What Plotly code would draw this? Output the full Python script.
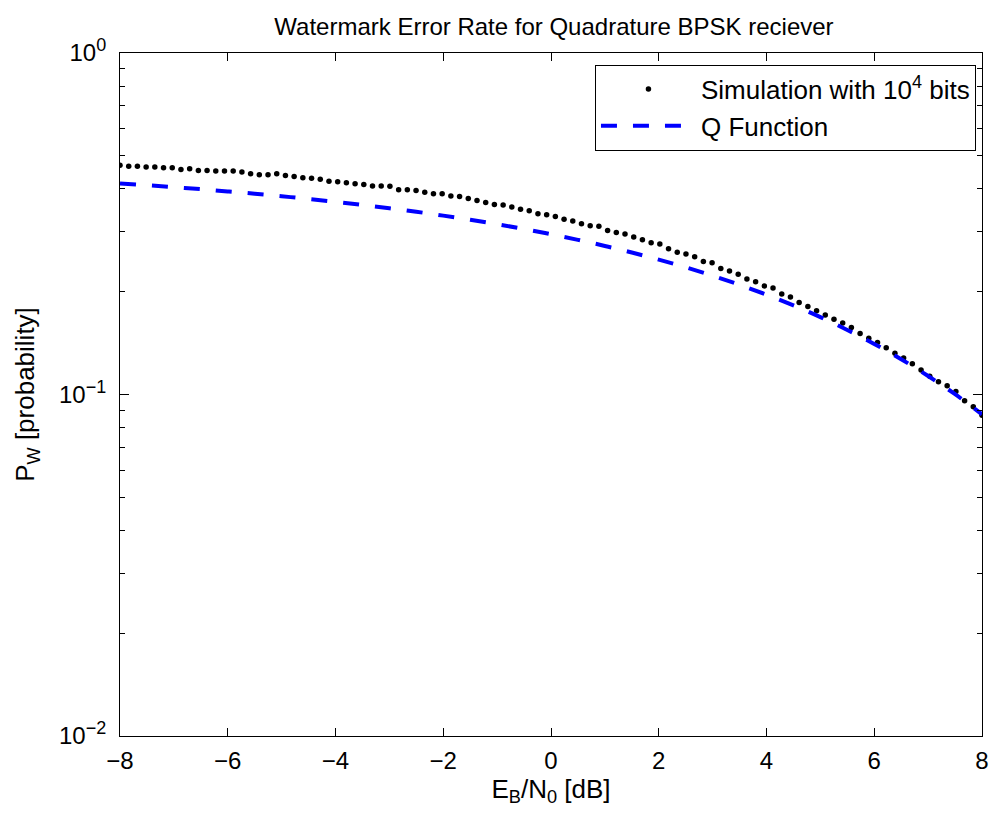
import numpy as np
import plotly.graph_objects as go

# Simulated watermark error rate, 100 SNR points between -8 and 8 dB
sim_ebn0_db = np.linspace(-8, 8, 100)
sim_pw = [
    0.469, 0.466, 0.466, 0.464, 0.464, 0.461, 0.461, 0.456, 0.458, 0.453,
    0.453, 0.451, 0.451, 0.451, 0.448, 0.443, 0.440, 0.440, 0.443, 0.438,
    0.435, 0.431, 0.430, 0.427, 0.421, 0.420, 0.417, 0.414, 0.412, 0.408,
    0.408, 0.407, 0.398, 0.398, 0.396, 0.391, 0.387, 0.387, 0.381, 0.380,
    0.375, 0.370, 0.365, 0.360, 0.359, 0.354, 0.349, 0.345, 0.338, 0.336,
    0.332, 0.326, 0.322, 0.316, 0.312, 0.311, 0.302, 0.298, 0.295, 0.289,
    0.284, 0.278, 0.276, 0.267, 0.261, 0.258, 0.253, 0.245, 0.243, 0.234,
    0.230, 0.225, 0.218, 0.214, 0.208, 0.205, 0.197, 0.193, 0.186, 0.181,
    0.176, 0.171, 0.166, 0.162, 0.157, 0.151, 0.146, 0.142, 0.137, 0.132,
    0.128, 0.123, 0.118, 0.113, 0.109, 0.106, 0.102, 0.0958, 0.0920, 0.0870,
]

# Theoretical Q-function curve
q_ebn0_db = [-8, -7.5, -7, -6.5, -6, -5.5, -5, -4.5, -4, -3.5, -3, -2.5, -2,
             -1.5, -1, -0.5, 0, 0.5, 1, 1.5, 2, 2.5, 3, 3.5, 4, 4.5, 5, 5.5,
             6, 6.5, 7, 7.5, 8]
q_pw = [0.4149, 0.4099, 0.4047, 0.3992, 0.3933, 0.3872, 0.3807, 0.3738,
        0.3667, 0.3591, 0.3511, 0.3428, 0.3340, 0.3248, 0.3152, 0.3051,
        0.2946, 0.2837, 0.2723, 0.2605, 0.2483, 0.2357, 0.2228, 0.2095,
        0.1960, 0.1823, 0.1685, 0.1545, 0.1406, 0.1269, 0.1133, 0.1002,
        0.0875]

x_ticks = [-8, -6, -4, -2, 0, 2, 4, 6, 8]
y_ticks = [0.01, 0.1, 1]
SUP = "<sup><span style='font-size:18px'>{}</span></sup>"
y_tick_text = ["10" + SUP.format("\u22122"), "10" + SUP.format("\u22121"),
               "10" + SUP.format("0")]
y_minor = [m * 10.0 ** e for e in (-2, -1) for m in range(2, 10)]

FONT = "Liberation Sans, Arial, Helvetica, sans-serif"

fig = go.Figure()
fig.add_trace(go.Scatter(
    x=sim_ebn0_db, y=sim_pw, mode="markers",
    marker=dict(color="black", size=5.5),
    name="Simulation with 10" + SUP.format("4") + " bits",
))
fig.add_trace(go.Scatter(
    x=q_ebn0_db, y=q_pw, mode="lines", line_shape="spline",
    line=dict(color="#0000ff", width=4, dash="16px,16px"),
    name="Q Function",
))

fig.update_layout(
    width=999, height=821,
    margin=dict(l=120, r=10, t=53, b=85),
    paper_bgcolor="white", plot_bgcolor="white",
    font=dict(family=FONT, size=24, color="black"),
    title=dict(text="Watermark Error Rate for Quadrature BPSK reciever",
               x=0.5545, xanchor="center", y=0.967, yanchor="middle",
               font=dict(size=24)),
    legend=dict(x=0.993, xanchor="right", y=0.983, yanchor="top",
                bordercolor="black", borderwidth=1, bgcolor="white",
                font=dict(size=26), itemwidth=95, tracegroupgap=0),
    showlegend=True,
)

fig.update_xaxes(
    range=[-8, 8], tickmode="array", tickvals=x_ticks,
    ticks="inside", ticklen=8, tickwidth=1, tickcolor="black",
    showline=True, linecolor="black", linewidth=1, mirror="allticks",
    showgrid=False, zeroline=False, ticklabelstandoff=3,
    tickfont=dict(size=24),
    title=dict(text="E<sub>B</sub>/N<sub>0</sub> [dB]", standoff=4,
               font=dict(size=26)),
)
fig.update_yaxes(
    type="log", range=[-2, 0], tickmode="array", tickvals=y_ticks,
    ticktext=y_tick_text,
    ticks="inside", ticklen=9, tickwidth=1, tickcolor="black",
    minor=dict(tickmode="array", tickvals=y_minor, ticks="inside",
               ticklen=5, tickwidth=1, tickcolor="black", showgrid=False),
    showline=True, linecolor="black", linewidth=1, mirror="allticks",
    showgrid=False, zeroline=False, ticklabelstandoff=8,
    tickfont=dict(size=24),
    title=dict(text="P<sub>W</sub> [probability]", standoff=16,
               font=dict(size=26)),
)

fig.write_html("out.html")
